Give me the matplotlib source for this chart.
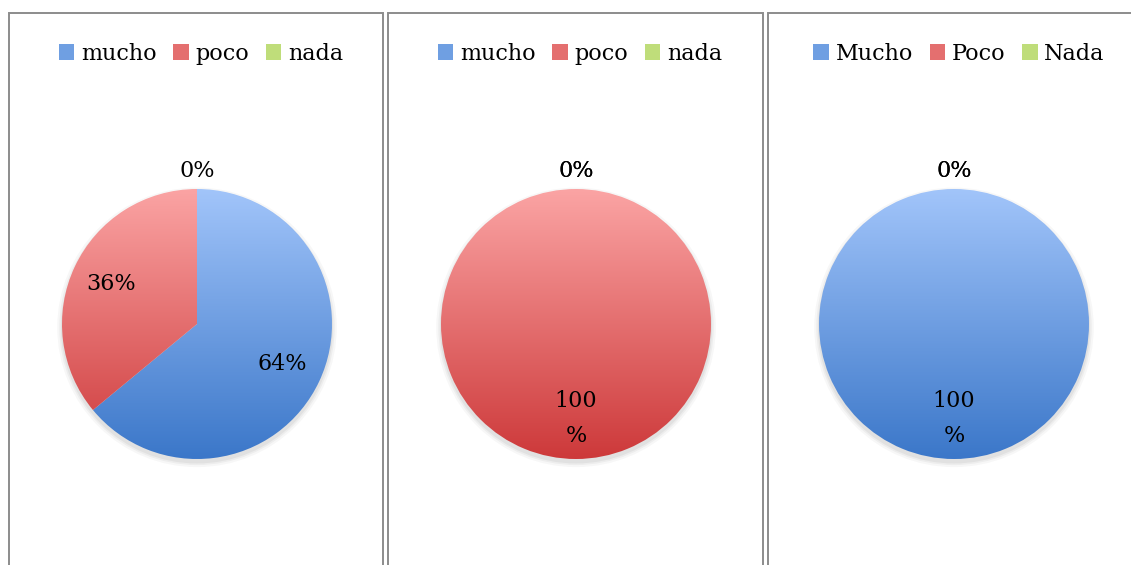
import numpy as np
import matplotlib
matplotlib.use("Agg")
import matplotlib.pyplot as plt
from matplotlib.patches import Patch, Rectangle, Circle

# data
labels_a = ["mucho", "poco", "nada"]
labels_b = ["Mucho", "Poco", "Nada"]
values_1 = [64, 36, 0]
values_2 = [0, 100, 0]
values_3 = [100, 0, 0]

# gradient colours (top, bottom) per category
grad = [("#a2c5fa", "#3b77c9"), ("#fba4a4", "#cd393a"), ("#d8f5a0", "#a3c755")]
mid = ["#6f9fe2", "#e46f6f", "#bfdd7a"]

plt.rcParams["font.family"] = ["DejaVu Serif"]

W, H = 1131, 565
fig = plt.figure(figsize=(W / 100, H / 100), dpi=100)
fig.patch.set_facecolor("white")

# panel frames (pixel coordinates)
frames = [(9, 383), (388, 763), (768, 1140)]
for x0, x1 in frames:
    fig.add_artist(Rectangle((x0 / W, -0.05), (x1 - x0) / W, (H - 13) / H + 0.05,
                             transform=fig.transFigure, fill=False,
                             edgecolor="#8c8c8c", linewidth=1.4))

centres = [197, 576, 954]
legend_x = [201, 580, 959]
panels = [(labels_a, values_1), (labels_a, values_2), (labels_b, values_3)]

R = 135
cy = H - 324
box = 340
lim = box / (2 * R)


def fmt(p):
    if round(p) == 100:
        return "100\n%"
    return "%1.0f%%" % p


for (labels, vals), cx, lx in zip(panels, centres, legend_x):
    ax = fig.add_axes([(cx - box / 2) / W, (cy - box / 2) / H, box / W, box / H])
    # soft shadow
    for k, a in [(0.035, 0.06), (0.02, 0.08), (0.008, 0.1)]:
        ax.add_patch(Circle((0.0, -0.025), 1 + k, color="#7a7a7a", alpha=a,
                            linewidth=0, zorder=0))
    wedges, texts, autotexts = ax.pie(vals, startangle=90, counterclock=False,
                                      autopct=fmt, pctdistance=0.7,
                                      wedgeprops=dict(linewidth=0),
                                      textprops=dict(fontsize=16, color="black",
                                                     linespacing=1.75))
    for i, w in enumerate(wedges):
        top, bot = grad[i]
        c0 = np.array(matplotlib.colors.to_rgb(top))
        c1 = np.array(matplotlib.colors.to_rgb(bot))
        t = np.linspace(0, 1, 256)[:, None, None]
        img = c0 * (1 - t) + c1 * t
        w.set_facecolor("none")
        im = ax.imshow(img, extent=(-1, 1, -1, 1), origin="upper",
                       aspect="auto", zorder=1, interpolation="bilinear")
        im.set_clip_path(w)
    for v, t in zip(vals, autotexts):
        t.set_zorder(3)
        if v == 0:
            t.set_position((0, 1.13))
            t.set_va("center")
    ax.set_xlim(-lim, lim)
    ax.set_ylim(-lim, lim)
    ax.set_aspect("equal")
    ax.axis("off")

    handles = [Patch(facecolor=mid[i], edgecolor="none", label=labels[i])
               for i in range(3)]
    fig.legend(handles=handles, loc="center", ncol=3, frameon=False,
               bbox_to_anchor=(lx / W, (H - 54) / H), fontsize=16,
               handlelength=0.7, handleheight=0.7, handletextpad=0.3,
               columnspacing=0.75)

fig.savefig("out.png", dpi=100, facecolor="white")
